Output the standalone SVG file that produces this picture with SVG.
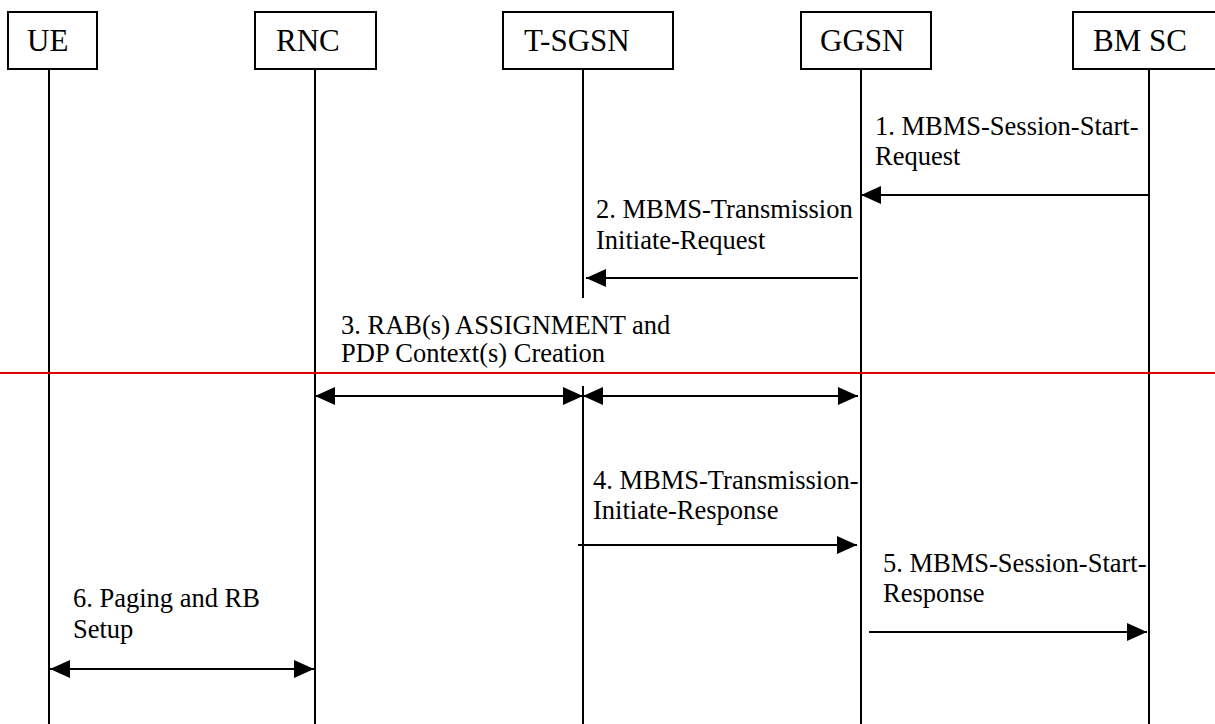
<svg xmlns="http://www.w3.org/2000/svg" width="1215" height="724" viewBox="0 0 1215 724">
<style>
.box{fill:#fff;stroke:#000;stroke-width:2}
.hd{font-family:"Liberation Serif","Times New Roman",serif;font-size:31px;fill:#000}
.lb{font-family:"Liberation Serif","Times New Roman",serif;font-size:26.5px;fill:#000}
.life{stroke:#000;stroke-width:2;fill:none}
.msg{stroke:#000;stroke-width:2;fill:none}
</style>
<defs>
<marker id="ah" markerUnits="userSpaceOnUse" markerWidth="20" markerHeight="18" refX="20" refY="9" orient="auto-start-reverse" viewBox="0 0 20 18">
<path d="M0,0 L20,9 L0,18 z" fill="#000"/>
</marker>
</defs>
<rect width="1215" height="724" fill="#fff"/>
<g id="UE">
<rect class="box" x="8" y="12" width="89" height="57"/>
<text class="hd" x="27" y="51">UE</text>
<line class="life" x1="49" y1="69" x2="49" y2="724"/>
</g>
<g id="RNC">
<rect class="box" x="255" y="12" width="121" height="57"/>
<text class="hd" x="276" y="51">RNC</text>
<line class="life" x1="315" y1="69" x2="315" y2="724"/>
</g>
<g id="T-SGSN">
<rect class="box" x="503" y="12" width="170" height="57"/>
<text class="hd" x="524" y="51">T-SGSN</text>
<line class="life" x1="583" y1="69" x2="583" y2="298"/>
<line class="life" x1="583" y1="386" x2="583" y2="724"/>
</g>
<g id="GGSN">
<rect class="box" x="801" y="12" width="130" height="57"/>
<text class="hd" x="820" y="51">GGSN</text>
<line class="life" x1="861" y1="69" x2="861" y2="724"/>
</g>
<g id="BMSC">
<rect class="box" x="1073" y="12" width="160" height="57"/>
<text class="hd" x="1093" y="51">BM SC</text>
<line class="life" x1="1149" y1="69" x2="1149" y2="724"/>
</g>
<line x1="0" y1="373" x2="1215" y2="373" stroke="#e00000" stroke-width="2"/>
<g id="connectors">
<line class="msg" x1="1149" y1="195" x2="861" y2="195" marker-end="url(#ah)"/>
<line class="msg" x1="858" y1="278" x2="586" y2="278" marker-end="url(#ah)"/>
<line class="msg" x1="315" y1="396" x2="583" y2="396" marker-start="url(#ah)" marker-end="url(#ah)"/>
<line class="msg" x1="583" y1="396" x2="858" y2="396" marker-start="url(#ah)" marker-end="url(#ah)"/>
<line class="msg" x1="578" y1="545" x2="857" y2="545" marker-end="url(#ah)"/>
<line class="msg" x1="869" y1="632" x2="1147" y2="632" marker-end="url(#ah)"/>
<line class="msg" x1="50" y1="669" x2="314" y2="669" marker-start="url(#ah)" marker-end="url(#ah)"/>
</g>
<g id="labels">
<text class="lb" x="875" y="135">1. MBMS-Session-Start-</text>
<text class="lb" x="875" y="165">Request</text>
<text class="lb" x="596" y="218">2. MBMS-Transmission</text>
<text class="lb" x="596" y="249">Initiate-Request</text>
<text class="lb" x="341" y="334">3. RAB(s) ASSIGNMENT and</text>
<text class="lb" x="341" y="362">PDP Context(s) Creation</text>
<text class="lb" x="593" y="489">4. MBMS-Transmission-</text>
<text class="lb" x="593" y="519">Initiate-Response</text>
<text class="lb" x="883" y="572">5. MBMS-Session-Start-</text>
<text class="lb" x="883" y="602">Response</text>
<text class="lb" x="73" y="607">6. Paging and RB</text>
<text class="lb" x="73" y="638">Setup</text>
</g>
</svg>
